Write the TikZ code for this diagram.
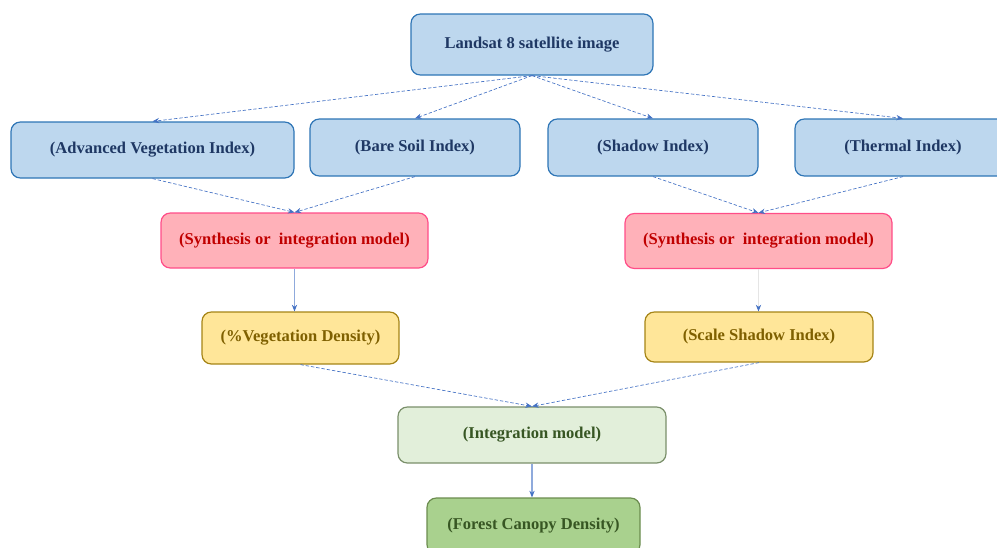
\documentclass[tikz,border=0pt]{standalone}
\usepackage{fontspec}
\setmainfont{Liberation Serif}
\usetikzlibrary{arrows.meta}

\definecolor{bluefill}{HTML}{BDD7EE}
\definecolor{blueline}{HTML}{2E75B6}
\definecolor{bluetext}{HTML}{1F3864}
\definecolor{redfill}{HTML}{FFB1B9}
\definecolor{redline}{HTML}{FF4D88}
\definecolor{redtext}{HTML}{C00000}
\definecolor{yellowfill}{HTML}{FFE699}
\definecolor{yellowline}{HTML}{A58416}
\definecolor{yellowtext}{HTML}{7F6000}
\definecolor{paleGfill}{HTML}{E2EFDA}
\definecolor{paleGline}{HTML}{7A8F6A}
\definecolor{greenfill}{HTML}{A9D18E}
\definecolor{greenline}{HTML}{6B8C4F}
\definecolor{greentext}{HTML}{375623}
\definecolor{arrowblue}{HTML}{4472C4}
\definecolor{solidblue}{HTML}{8FAADC}

\begin{document}
\begin{tikzpicture}[x=0.75pt,y=-0.75pt,
        font=\bfseries\fontsize{12.4}{14}\selectfont,
        box/.style={draw, rounded corners=7pt, line width=0.9pt, align=center, inner sep=0pt},
        bluebox/.style={box, draw=blueline, fill=bluefill, text=bluetext},
        redbox/.style={box, draw=redline, fill=redfill, text=redtext},
        yellowbox/.style={box, draw=yellowline, fill=yellowfill, text=yellowtext},
        palebox/.style={box, draw=paleGline, fill=paleGfill, text=greentext},
        greenbox/.style={box, draw=greenline, fill=greenfill, text=greentext},
        link/.style={-{Stealth[length=5pt,width=4pt,color=arrowblue]}, color=arrowblue, line width=0.5pt, dash pattern=on 2.5pt off 1.5pt},
        solidlink/.style={-{Stealth[length=5pt,width=4pt,color=arrowblue]}, color=solidblue, line width=1pt},
        faintlink/.style={-{Stealth[length=5pt,width=4pt,color=arrowblue]}, color=black!10, line width=0.6pt}]
        \useasboundingbox (0,0) rectangle (997,547);

        \node[bluebox, minimum width=181.5pt, minimum height=45.75pt] at (532, 44.5)(land){Landsat 8 satellite image};
        \node[bluebox, minimum width=212.25pt, minimum height=42pt] at (152.5, 150)(adv){(Advanced Vegetation Index)};
        \node[bluebox, minimum width=157.5pt, minimum height=42.75pt] at (415, 147.5)(bare){(Bare Soil Index)};
        \node[bluebox, minimum width=157.5pt, minimum height=42.75pt] at (653, 147.5)(shadow){(Shadow Index)};
        \node[bluebox, minimum width=162pt, minimum height=42.75pt] at (903, 147.5)(thermal){(Thermal Index)};

        \node[redbox, minimum width=200.25pt, minimum height=41.25pt] at (294.5, 240.5)(synA){(Synthesis or\ \ integration model)};
        \node[redbox, minimum width=200.25pt, minimum height=41.25pt] at (758.5, 241)(synB){(Synthesis or\ \ integration model)};

        \node[yellowbox, minimum width=147.75pt, minimum height=39pt] at (300.5, 338)(veg){(\%Vegetation Density)};
        \node[yellowbox, minimum width=171pt, minimum height=37.5pt] at (759, 337)(scale){(Scale Shadow Index)};

        \node[palebox, minimum width=201pt, minimum height=42pt] at (532, 435)(integ){(Integration model)};
        \node[greenbox, minimum width=159.75pt, minimum height=42pt] at (533.5, 526)(forest){(Forest Canopy Density)};

        \path[link]
            (land.south)edge(adv.north)
            (land.south)edge(bare.north)
            (land.south)edge(shadow.north)
            (land.south)edge(thermal.north)
            (adv.south)edge(synA.north)
            (bare.south)edge(synA.north)
            (shadow.south)edge(synB.north)
            (thermal.south)edge(synB.north)
            (veg.south)edge(integ.north)
            (scale.south)edge(integ.north)
            ;
        \path[solidlink]
            (synA.south)edge(synA.south |- veg.north)
            (integ.south)edge(integ.south |- forest.north)
            ;
        \path[faintlink]
            (synB.south)edge(synB.south |- scale.north)
            ;
    \end{tikzpicture}
\end{document}
